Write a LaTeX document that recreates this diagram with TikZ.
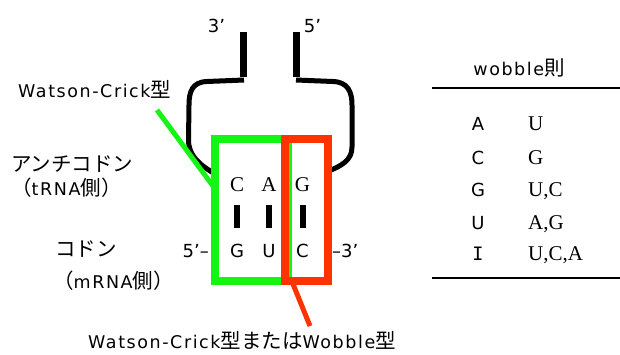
\documentclass[tikz,border=0pt]{standalone}
\usepackage{fontspec}
\setmainfont{Liberation Serif}
\newfontfamily\dvl[LetterSpace=9]{DejaVu Sans}
\newfontfamily\jp{Noto Sans CJK JP}
\newfontfamily\dv{DejaVu Sans}
\newfontfamily\dm{DejaVu Sans Mono}
\newcommand{\J}[1]{{\jp\fontsize{20.5}{22}\selectfont #1}}
\definecolor{gcol}{RGB}{20,245,20}
\definecolor{rcol}{RGB}{255,51,0}
\tikzset{
  loopline/.style={line width=5pt, black},
  stem/.style={line width=7pt, black},
  gbox/.style={draw=gcol, line width=8pt},
  rbox/.style={draw=rcol, line width=8pt},
  gline/.style={draw=gcol, line width=5pt},
  rline/.style={draw=rcol, line width=5pt},
  bar/.style={line width=6pt, black},
  rule/.style={line width=1.6pt, black},
  txt/.style={inner sep=0pt, anchor=base, font=\dvl\fontsize{17.5}{20}\selectfont},
  ltxt/.style={txt, anchor=base west},
  sl/.style={inner sep=0pt, anchor=base, font=\dv\fontsize{18}{20}\selectfont},
  sr/.style={inner sep=0pt, anchor=base, font=\fontsize{21}{23}\selectfont},
  srl/.style={sr, anchor=base west},
}
\begin{document}
\begin{tikzpicture}[x=1pt, y=-1pt]
\useasboundingbox (0,0) rectangle (620,354);
% loop
\draw[stem] (243.3,32) -- (243.3,77);
\draw[stem] (296.7,32) -- (296.7,77);
\draw[loopline] (244,80) -- (207,81.5) .. controls (192,82) and (189,92) .. (189,105) -- (188.5,140) .. controls (188.5,156) and (200,165) .. (215,174);
\draw[loopline] (296,80) -- (333,81.5) .. controls (348,82) and (352,92) .. (352,105) -- (352,147) .. controls (352,160) and (342,166) .. (326,172);
% boxes
\draw[gbox] (214.5,139) rectangle (287.5,281);
\draw[rbox] (284.5,139) rectangle (328,281);
% leaders
\coordinate (g1) at (157,110);
\coordinate (g2) at (213,186);
\draw[gline] (g1) -- (g2);
\coordinate (r1) at (293,284);
\coordinate (r2) at (310,326);
\draw[rline] (r1) -- (r2);
% top labels
\node[sl] (p3) at (216.5,32) {3’};
\node[sl] (p5) at (312.5,32) {5’};
% left labels
\node[ltxt] (wc) at (18,97) {Watson-Crick\J{型}};
\node[ltxt] (anti) at (11,171) {\J{アンチコドン}};
\node[ltxt] (trna) at (11,195) {\J{（}tRNA\J{側）}};
\node[ltxt] (codon) at (55,256) {\J{コドン}};
\node[ltxt] (mrna) at (53,288) {\J{（}mRNA\J{側）}};
% codon pairs
\node[sr] (c1) at (237,191) {C};
\node[sr] (a1) at (269,191) {A};
\node[sr] (g1t) at (302.5,191) {G};
\draw[bar] (237,205) -- (237,228);
\draw[bar] (269,205) -- (269,228);
\draw[bar] (303,205) -- (303,228);
\node[sl] (g2t) at (237,257) {G};
\node[sl] (u2) at (269,257) {U};
\node[sl] (c2) at (302.5,257) {C};
\node[sl, anchor=base east] (five) at (209,257) {5’–};
\node[sl, anchor=base west] (three) at (332,257) {–3’};
% bottom label
\node[txt, anchor=base west] (bot) at (88,348) {Watson-Crick\J{型または}Wobble\J{型}};
% table
\node[txt] (title) at (519,75) {wobble\J{則}};
\coordinate (t1) at (432,88);
\coordinate (t2) at (620,88);
\coordinate (b1) at (432,278);
\coordinate (b2) at (620,278);
\draw[rule] (t1) -- (t2);
\draw[rule] (b1) -- (b2);
\node[sl] (ra) at (478,130.7) {A};
\node[sl] (rc) at (478,164) {C};
\node[sl] (rg) at (478,196.7) {G};
\node[sl] (ru) at (478,229) {U};
\node[inner sep=0pt, anchor=base, font=\dm\fontsize{18.5}{20}\selectfont] (ri) at (478,260) {I};
\node[srl] (va) at (528,130.7) {U};
\node[srl] (vc) at (528,164) {G};
\node[srl] (vg) at (528,196.7) {U,C};
\node[srl] (vu) at (528,229) {A,G};
\node[srl] (vi) at (528,260) {U,C,A};
\end{tikzpicture}
\end{document}
